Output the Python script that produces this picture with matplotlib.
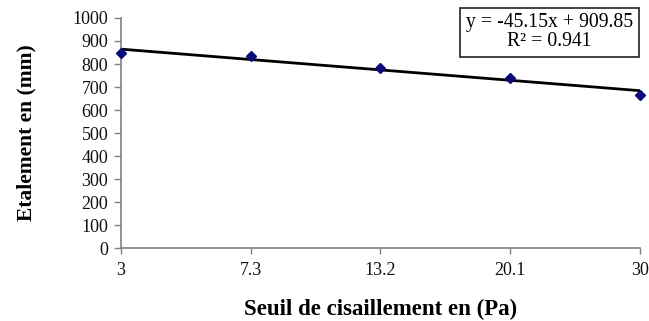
import matplotlib.pyplot as plt

# Data
categories = ["3", "7.3", "13.2", "20.1", "30"]
etalement = [846, 833, 781, 740, 665]
slope = -45.15
intercept = 909.85
r2_label = "R\u00b2 = 0.941"

plt.rcParams['font.family'] = ['Liberation Serif', 'DejaVu Serif']

fig = plt.figure(figsize=(6.49, 3.21), dpi=100)
ax = fig.add_axes([0.186, 0.227, 0.800, 0.717])

xs = list(range(1, len(categories) + 1))
trend = [slope * x + intercept for x in xs]

ax.plot(xs, trend, color='black', lw=2, zorder=2)
ax.plot(xs, etalement, linestyle='none', marker='D', markersize=5.5,
        color='#0a0a78', zorder=3, clip_on=False)

ax.set_xlim(1, 5)
ax.set_ylim(0, 1000)
ax.set_xticks(xs)
ax.set_xticklabels(categories)
ax.set_yticks(range(0, 1001, 100))

for side in ('top', 'right'):
    ax.spines[side].set_visible(False)
for side in ('left', 'bottom'):
    ax.spines[side].set_color('#808080')
    ax.spines[side].set_linewidth(1.2)

ax.tick_params(axis='both', colors='#808080', labelcolor='#111111',
               labelsize=13, width=1)
ax.tick_params(axis='y', length=5, pad=4)
ax.tick_params(axis='x', length=4, pad=6)

ax.set_xlabel("Seuil de cisaillement en (Pa)", fontsize=16.5, fontweight='bold',
              labelpad=14)
ax.set_ylabel("Etalement en (mm)", fontsize=15.5, fontweight='bold', labelpad=26)

ax.text(0.826, 0.937, "y = -45.15x + 909.85\n" + r2_label,
        transform=ax.transAxes, ha='center', va='center', fontsize=14.2,
        linespacing=1.0, multialignment='center',
        bbox=dict(boxstyle='square,pad=0.3', facecolor='white',
                  edgecolor='#222222', linewidth=1.2))

fig.savefig("out.png", dpi=100)
